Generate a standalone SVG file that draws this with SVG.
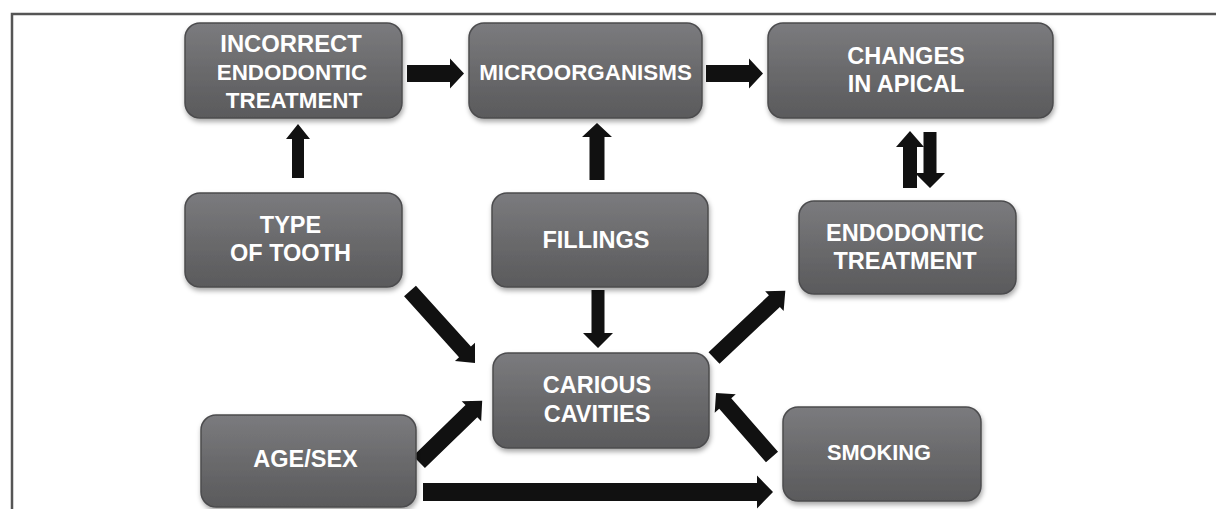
<svg xmlns="http://www.w3.org/2000/svg" width="1216" height="509" viewBox="0 0 1216 509">
<defs>
<linearGradient id="g" x1="0" y1="0" x2="0" y2="1">
<stop offset="0" stop-color="#7b7b7e"/>
<stop offset="0.5" stop-color="#6a6a6c"/>
<stop offset="1" stop-color="#5a5a5c"/>
</linearGradient>
<filter id="sh" x="-10%" y="-10%" width="125%" height="130%">
<feDropShadow dx="1" dy="3" stdDeviation="2.5" flood-color="#000" flood-opacity="0.35"/>
</filter>
</defs>
<style>
.box{fill:url(#g);stroke:#4c4c4e;stroke-width:1.5;filter:url(#sh)}
.t{fill:#fff;font-family:"Liberation Sans",Arial,sans-serif;font-weight:bold;font-size:23.5px;text-anchor:middle}
.a{fill:#111}
</style>
<rect width="1216" height="509" fill="#fff"/>
<path d="M12,509 V14 H1216" fill="none" stroke="#555" stroke-width="2.5"/>

<g id="connectors">
<polygon class="a" points="0,-8.5 43,-8.5 43,-15 57,0 43,15 43,8.5 0,8.5" transform="translate(407,73.5)"/>
<polygon class="a" points="0,-8.5 43,-8.5 43,-15 57,0 43,15 43,8.5 0,8.5" transform="translate(706,73.5)"/>
<polygon class="a" points="0,-9 334,-9 334,-16.5 350,0 334,16.5 334,9 0,9" transform="translate(423,492)"/>
<polygon class="a" points="0,-6 39,-6 39,-12 54,0 39,12 39,6 0,6" transform="translate(298,178) rotate(-90)"/>
<polygon class="a" points="0,-7.5 43,-7.5 43,-15 57,0 43,15 43,7.5 0,7.5" transform="translate(597,180) rotate(-90)"/>
<polygon class="a" points="0,-7 41,-7 41,-14 57,0 41,14 41,7 0,7" transform="translate(910,188) rotate(-90)"/>
<polygon class="a" points="0,-6.5 41,-6.5 41,-15 56,0 41,15 41,6.5 0,6.5" transform="translate(930,132) rotate(90)"/>
<polygon class="a" points="0,-6.5 43,-6.5 43,-15 58,0 43,15 43,6.5 0,6.5" transform="translate(598,290) rotate(90)"/>
<polygon class="a" points="0,-8 82,-8 82,-13.5 97,0 82,13.5 82,8 0,8" transform="translate(410,291) rotate(47.9)"/>
<polygon class="a" points="0,-8 83,-8 83,-13.5 98,0 83,13.5 83,8 0,8" transform="translate(714,358) rotate(-43.3)"/>
<polygon class="a" points="0,-8.5 73,-8.5 73,-14 88,0 73,14 73,8.5 0,8.5" transform="translate(419,462) rotate(-44.1)"/>
<polygon class="a" points="0,-8 71,-8 71,-14 85,0 71,14 71,8 0,8" transform="translate(772,457) rotate(-131.2)"/>
</g>

<g id="incorrect">
<rect class="box" x="185" y="23" width="217" height="95" rx="15"/>
<text class="t" x="291" y="52" style="font-size:23.8px">INCORRECT</text>
<text class="t" x="292" y="80" style="font-size:22.4px">ENDODONTIC</text>
<text class="t" x="294" y="108" style="font-size:22.4px">TREATMENT</text>
</g>
<g id="microorganisms">
<rect class="box" x="469" y="23" width="233" height="95" rx="15"/>
<text class="t" x="585.5" y="80" style="font-size:22.4px">MICROORGANISMS</text>
</g>
<g id="changes">
<rect class="box" x="768" y="23" width="285" height="95" rx="15"/>
<text class="t" x="906" y="64">CHANGES</text>
<text class="t" x="906" y="92">IN APICAL</text>
</g>
<g id="type">
<rect class="box" x="185" y="193" width="217" height="94" rx="15"/>
<text class="t" x="290.5" y="233">TYPE</text>
<text class="t" x="290.5" y="261">OF TOOTH</text>
</g>
<g id="fillings">
<rect class="box" x="492" y="193" width="216" height="94" rx="15"/>
<text class="t" x="596" y="248">FILLINGS</text>
</g>
<g id="endodontic">
<rect class="box" x="799" y="201" width="217" height="93" rx="15"/>
<text class="t" x="905" y="241">ENDODONTIC</text>
<text class="t" x="905" y="269">TREATMENT</text>
</g>
<g id="carious">
<rect class="box" x="493" y="353" width="216" height="95" rx="15"/>
<text class="t" x="597" y="393">CARIOUS</text>
<text class="t" x="597" y="422">CAVITIES</text>
</g>
<g id="agesex">
<rect class="box" x="201" y="415" width="215" height="92" rx="15"/>
<text class="t" x="305.5" y="467">AGE/SEX</text>
</g>
<g id="smoking">
<rect class="box" x="783" y="407" width="198" height="94" rx="15"/>
<text class="t" x="879" y="460" style="font-size:21.8px">SMOKING</text>
</g>
</svg>
